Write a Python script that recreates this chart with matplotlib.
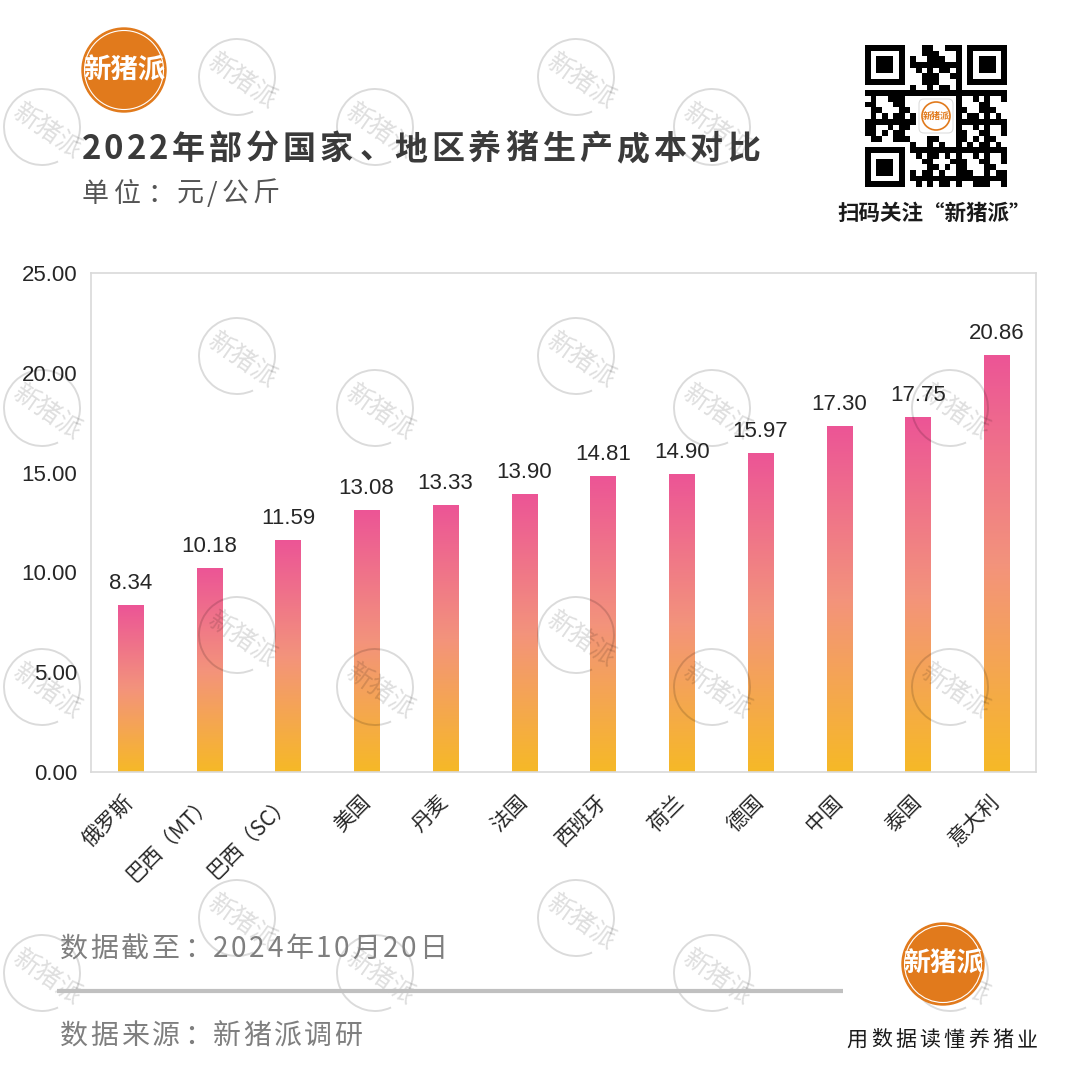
import numpy as np
import matplotlib.pyplot as plt
from matplotlib.colors import LinearSegmentedColormap
from matplotlib.patches import Circle, Arc, Rectangle, FancyBboxPatch

# data
countries = ['俄罗斯', '巴西（MT）', '巴西（SC）', '美国', '丹麦', '法国',
             '西班牙', '荷兰', '德国', '中国', '泰国', '意大利']
costs = [8.34, 10.18, 11.59, 13.08, 13.33, 13.90, 14.81, 14.90, 15.97, 17.30, 17.75, 20.86]
y_ticks = [0, 5, 10, 15, 20, 25]

title = '2022年部分国家、地区养猪生产成本对比'
unit = '单位：元/公斤'
date_note = '数据截至：2024年10月20日'
source_note = '数据来源：新猪派调研'
slogan = '用数据读懂养猪业'
qr_note = '扫码关注“新猪派”'

CJK = 'Noto Sans CJK SC'
NUM = 'Liberation Sans'
ORANGE = '#E17A1C'
plt.rcParams['font.family'] = [CJK, 'DejaVu Sans']

bar_cmap = LinearSegmentedColormap.from_list('pig', ['#F6B927', '#F3937C', '#EC5596'])


def adv(ch):
    # rough advance width of a glyph, in em
    if ch.isascii():
        if ch.isdigit():
            return 0.56
        if ch in './':
            return 0.32
        return 0.6
    return 1.0


def spaced(ov, x, y, s, px, gap, ha='left', **kw):
    # draw text char by char so letter spacing can be added
    widths = [adv(c) * px for c in s]
    total = sum(widths) + gap * (len(s) - 1)
    if ha == 'center':
        x -= total / 2
    for c, w in zip(s, widths):
        if c in '、：，':
            ov.text(x + 0.08 * px, y, c, ha='left', va='baseline', fontsize=px * 0.72, **kw)
        else:
            ov.text(x + w / 2, y, c, ha='center', va='baseline', fontsize=px * 0.72, **kw)
        x += w + gap


def watermark(ov, x, y):
    ov.add_patch(Arc((x, y), 76, 76, theta1=65, theta2=385, color='k', alpha=0.14, lw=1.4, zorder=1))
    ov.text(x + 5, y + 6, '新猪派', rotation=-35, ha='center', va='center', fontsize=18.5,
            color='k', alpha=0.13, zorder=1)


def logo(ov, x, y, r):
    ov.add_patch(Circle((x, y), r, color=ORANGE, zorder=5))
    ov.add_patch(Circle((x, y), r - 2.5, fill=False, ec='white', lw=0.8, zorder=6))
    ov.text(x, y, '新猪派', color='white', fontsize=r * 0.47, fontweight='bold',
            ha='center', va='center', zorder=7)


def qr(ov, left, top, size):
    n = 25
    i, j = np.indices((n, n))
    m = (((i * 7 + j * 11 + i * j * 3) % 5) < 2) | (((i * i + 2 * j) % 7) == 0)
    m = m.astype(float)
    for (r0, c0) in [(0, 0), (0, n - 7), (n - 7, 0)]:
        r1, c1 = max(r0 - 1, 0), max(c0 - 1, 0)
        m[r1:r0 + 8, c1:c0 + 8] = 0
        m[r0:r0 + 7, c0:c0 + 7] = 1
        m[r0 + 1:r0 + 6, c0 + 1:c0 + 6] = 0
        m[r0 + 2:r0 + 5, c0 + 2:c0 + 5] = 1
    m[9:16, 9:16] = 0
    ov.add_patch(Rectangle((left - 4, top - 4), size + 8, size + 8, color='white', zorder=4))
    ov.imshow(m, cmap='gray_r', vmin=0, vmax=1, extent=[left, left + size, top + size, top],
              interpolation='nearest', aspect='auto', zorder=5)
    cx, cy = left + size / 2, top + size / 2
    ov.add_patch(FancyBboxPatch((cx - 17, cy - 17), 34, 34, boxstyle='round,pad=0,rounding_size=5',
                                fc='white', ec='#dddddd', lw=0.8, zorder=6))
    ov.add_patch(Circle((cx, cy), 14, fill=False, ec=ORANGE, lw=1.2, zorder=7))
    ov.text(cx, cy, '新猪派', color=ORANGE, fontsize=6.5, fontweight='bold',
            ha='center', va='center', zorder=8)


def main():
    fig = plt.figure(figsize=(10.8, 10.8), dpi=100)
    fig.patch.set_facecolor('white')

    # chart area
    ax = fig.add_axes([91 / 1080, 1 - 772 / 1080, 945 / 1080, 499 / 1080], zorder=1)
    x = np.arange(len(countries))
    bars = ax.bar(x, costs, width=0.32, color='none', edgecolor='none')
    grad = np.linspace(0, 1, 256).reshape(-1, 1)
    for b, v in zip(bars, costs):
        ax.imshow(grad, cmap=bar_cmap, origin='lower', aspect='auto', zorder=2,
                  extent=[b.get_x(), b.get_x() + b.get_width(), 0, b.get_height()])
        ax.annotate(f'{v:.2f}', (b.get_x() + b.get_width() / 2, v), xytext=(0, 12),
                    textcoords='offset points', ha='center', va='baseline',
                    fontsize=16, family=NUM, color='#262626')
    ax.set_xlim(-0.5, len(countries) - 0.5)
    ax.set_ylim(0, 25)
    ax.set_yticks(y_ticks)
    ax.set_yticklabels([f'{t:.2f}' for t in y_ticks], fontfamily=NUM, fontsize=16, color='#262626')
    ax.set_xticks(x)
    ax.set_xticklabels(countries, rotation=45, ha='right', va='center', rotation_mode='anchor',
                       fontsize=15, color='#262626')
    ax.tick_params(axis='both', length=0)
    ax.tick_params(axis='y', pad=10)
    ax.tick_params(axis='x', pad=19)
    for s in ax.spines.values():
        s.set_color('#d9d9d9')
        s.set_linewidth(1.2)

    # overlay in pixel coordinates
    ov = fig.add_axes([0, 0, 1, 1], zorder=3)
    ov.set_facecolor('none')
    ov.axis('off')

    wm_upper = [(237, 77), (576, 77), (237, 356), (576, 356), (237, 635), (576, 635), (237, 918), (576, 918)]
    wm_lower = [(42, 127), (375, 127), (712, 127), (42, 408), (375, 408), (712, 408), (950, 408),
                (42, 687), (375, 687), (712, 687), (950, 687), (42, 973), (375, 973), (712, 973), (950, 973)]
    for (wx, wy) in wm_upper + wm_lower:
        watermark(ov, wx, wy)

    logo(ov, 124, 70, 42)
    logo(ov, 943, 964, 41)
    qr(ov, 865, 45, 142)

    spaced(ov, 82, 159, title, 33, 4, fontweight='bold', color='#3a3a3a', zorder=9)
    spaced(ov, 82, 202, unit, 27, 4.5, color='#555555', zorder=9)
    ov.text(934, 213, qr_note, ha='center', va='center', fontsize=15.5, fontweight='bold',
            color='#1a1a1a', zorder=9)
    spaced(ov, 60, 957, date_note, 28, 2.5, color='#7f7f7f', zorder=9)
    spaced(ov, 60, 1044, source_note, 28, 2.5, color='#7f7f7f', zorder=9)
    spaced(ov, 942, 1046, slogan, 21, 3.3, ha='center', color='#1a1a1a', zorder=9)
    ov.plot([57, 843], [991, 991], color='#c0c0c0', lw=3, solid_capstyle='butt', zorder=2)

    ov.set_xlim(0, 1080)
    ov.set_ylim(1080, 0)

    fig.savefig('out.png', dpi=100, facecolor='white')


main()
